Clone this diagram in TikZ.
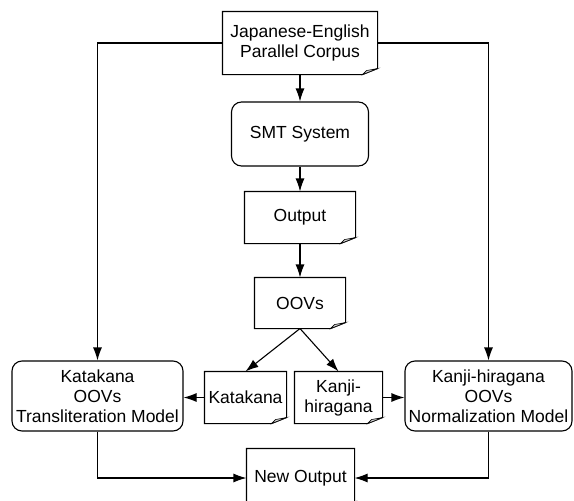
\documentclass[tikz,border=0pt]{standalone}
\usepackage{fontspec}
\setmainfont{Liberation Sans}
\usepackage{tikz}
\usetikzlibrary{arrows.meta}

\begin{document}
\begin{tikzpicture}[x=1pt,y=-1pt,>={Latex[length=13pt,width=9pt]},line width=1.1pt,
  font=\fontsize{17.5}{20}\selectfont,
  doc/.style={align=center,inner sep=0pt},
  rbox/.style={draw,rounded corners=10pt,align=center,inner sep=0pt}]
\useasboundingbox (0,0) rectangle (574,501);
% boxes
\node[doc,minimum width=154pt,minimum height=62pt] (corpus) at (300,43) {Japanese-English\\Parallel Corpus};
\node[rbox,minimum width=137pt,minimum height=64pt] (smt) at (300,134) {SMT System};
\node[doc,minimum width=110pt,minimum height=51pt] (out) at (300,217.5) {Output};
\node[doc,minimum width=90pt,minimum height=50pt] (oov) at (300,303) {OOVs};
\node[doc,minimum width=81pt,minimum height=51pt] (kata) at (245.5,397.5) {Katakana};
\node[doc,minimum width=87pt,minimum height=51pt] (kanji) at (338.5,397.5) {Kanji-\\hiragana};
\node[rbox,minimum width=171pt,minimum height=70pt] (katam) at (97.5,396) {Katakana\\OOVs\\Transliteration Model};
\node[rbox,minimum width=167pt,minimum height=70pt] (kanjim) at (488.5,396) {Kanji-hiragana\\OOVs\\Normalization Model};
\node[doc,minimum width=107pt,minimum height=58pt] (new) at (300.5,478) {New Output};
% folded page outlines
\foreach \n in {corpus,out,oov,kata,kanji,new}{
  \draw (\n.north west) -- (\n.north east) -- ([yshift=6pt]\n.south east) -- ([xshift=-15pt]\n.south east) -- (\n.south west) -- cycle;
  \filldraw[fill=gray!30,line width=0.6pt] ([yshift=6pt]\n.south east) -- ([xshift=-15pt]\n.south east) -- ([xshift=-11pt,yshift=4pt]\n.south east) -- cycle;
}
% arrows
\draw[->] (corpus.west) -| (katam.north);
\draw[->] (corpus.east) -| (kanjim.north);
\draw[->] (corpus.south) -- (smt.north);
\draw[->] (smt.south) -- (out.north);
\draw[->] (out.south) -- (oov.north);
\draw[->] (oov.south) -- (kata.north);
\draw[->] (oov.south) -- (kanji.north);
\draw[->] (kata.west) -- (kata.west -| katam.east);
\draw[->] (kanji.east) -- (kanji.east -| kanjim.west);
\draw[->] (katam.south) |- (new.west);
\draw[->] (kanjim.south) |- (new.east);
\end{tikzpicture}
\end{document}
